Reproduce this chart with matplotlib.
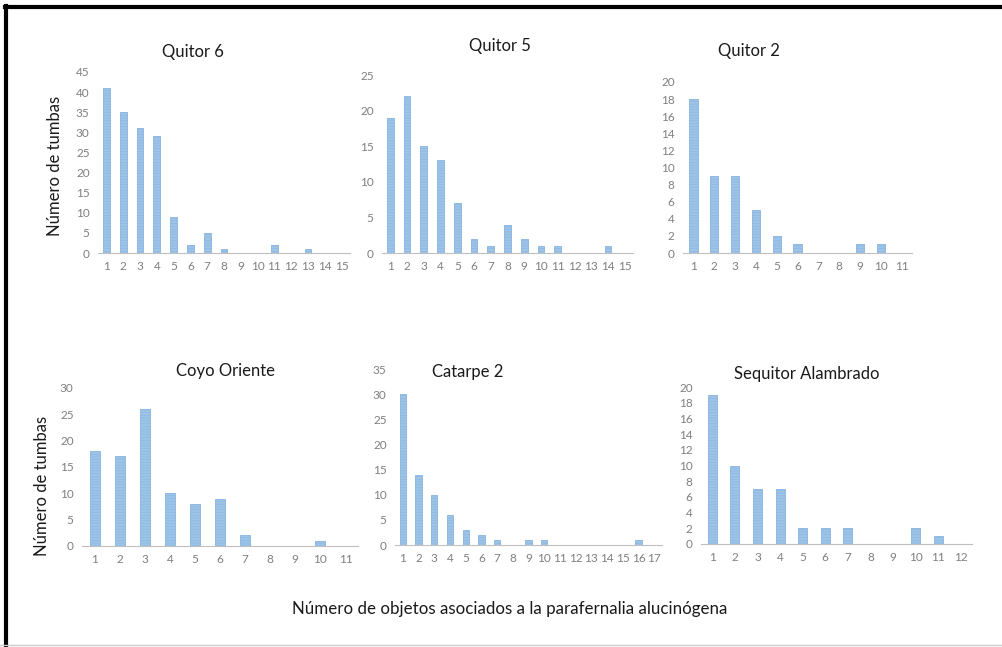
import numpy as np
import matplotlib
matplotlib.use("Agg")
import matplotlib.pyplot as plt
from matplotlib.lines import Line2D

plt.rcParams['font.family'] = ['Lato', 'DejaVu Sans']
plt.rcParams['hatch.linewidth'] = 0.35

# datos por cementerio (numero de tumbas por cantidad de objetos)
quitor6 = [41, 35, 31, 29, 9, 2, 5, 1, 0, 0, 2, 0, 1, 0, 0]
quitor5 = [19, 22, 15, 13, 7, 2, 1, 4, 2, 1, 1, 0, 0, 1, 0]
quitor2 = [18, 9, 9, 5, 2, 1, 0, 0, 1, 1, 0]
coyo = [18, 17, 26, 10, 8, 9, 2, 0, 0, 1, 0]
catarpe2 = [30, 14, 10, 6, 3, 2, 1, 0, 1, 1, 0, 0, 0, 0, 0, 1, 0]
sequitor = [19, 10, 7, 7, 2, 2, 2, 0, 0, 2, 1, 0]

titles = ["Quitor 6", "Quitor 5", "Quitor 2",
          "Coyo Oriente", "Catarpe 2", "Sequitor Alambrado"]
ylabel = "Número de tumbas"
xlabel = "Número de objetos asociados a la parafernalia alucinógena"

W, H = 1002, 647

# (left, right, bottom, top) en pixeles, ymax, paso, posicion del titulo
panels = [
    (quitor6, (98, 350, 253, 72), 45, 5, (193, 52)),
    (quitor5, (382, 633, 253, 75), 25, 5, (500, 46)),
    (quitor2, (683, 912, 253, 82), 20, 2, (749, 51)),
    (coyo, (82, 358, 546, 388), 30, 5, (226, 371)),
    (catarpe2, (395, 662, 545, 369), 35, 5, (468, 372)),
    (sequitor, (701, 972, 544, 387), 20, 2, (807, 374)),
]

fig = plt.figure(figsize=(W / 100, H / 100), dpi=100)

for i, (vals, box, ymax, step, tpos) in enumerate(panels):
    l, r, b, t = box
    ax = fig.add_axes([l / W, 1 - b / H, (r - l) / W, (b - t) / H])
    x = np.arange(1, len(vals) + 1)
    ax.bar(x, vals, width=0.4, color='#9dc3e6', edgecolor='#86b4e0',
           linewidth=0.6, hatch='------')
    ax.set_xlim(0.5, len(vals) + 0.5)
    ax.set_ylim(0, ymax)
    ax.set_xticks(x)
    ax.set_yticks(np.arange(0, ymax + 1, step))
    ax.tick_params(length=0, labelsize=8.5, colors='#7f7f7f', pad=6)
    for s in ['top', 'right', 'left']:
        ax.spines[s].set_visible(False)
    ax.spines['bottom'].set_color('#bfbfbf')
    fig.text(tpos[0] / W, 1 - tpos[1] / H, titles[i], ha='center',
             va='center', fontsize=12, color='#1a1a1a')

fig.text(55 / W, 1 - 166 / H, ylabel, rotation=90, ha='center',
         va='center', fontsize=12, color='#1a1a1a')
fig.text(42 / W, 1 - 486 / H, ylabel, rotation=90, ha='center',
         va='center', fontsize=12, color='#1a1a1a')
fig.text(510 / W, 1 - 609 / H, xlabel, ha='center', va='center',
         fontsize=12.2, color='#1a1a1a')

# marco
fig.add_artist(Line2D([6 / W, 6 / W], [0, 1 - 6 / H], color='black',
                      linewidth=3, transform=fig.transFigure))
fig.add_artist(Line2D([5 / W, 1], [1 - 6.5 / H, 1 - 6.5 / H], color='black',
                      linewidth=3, transform=fig.transFigure))
fig.add_artist(Line2D([0, 1], [1 - 645 / H, 1 - 645 / H], color='#cccccc',
                      linewidth=1, transform=fig.transFigure))

fig.savefig("out.png", dpi=100)
